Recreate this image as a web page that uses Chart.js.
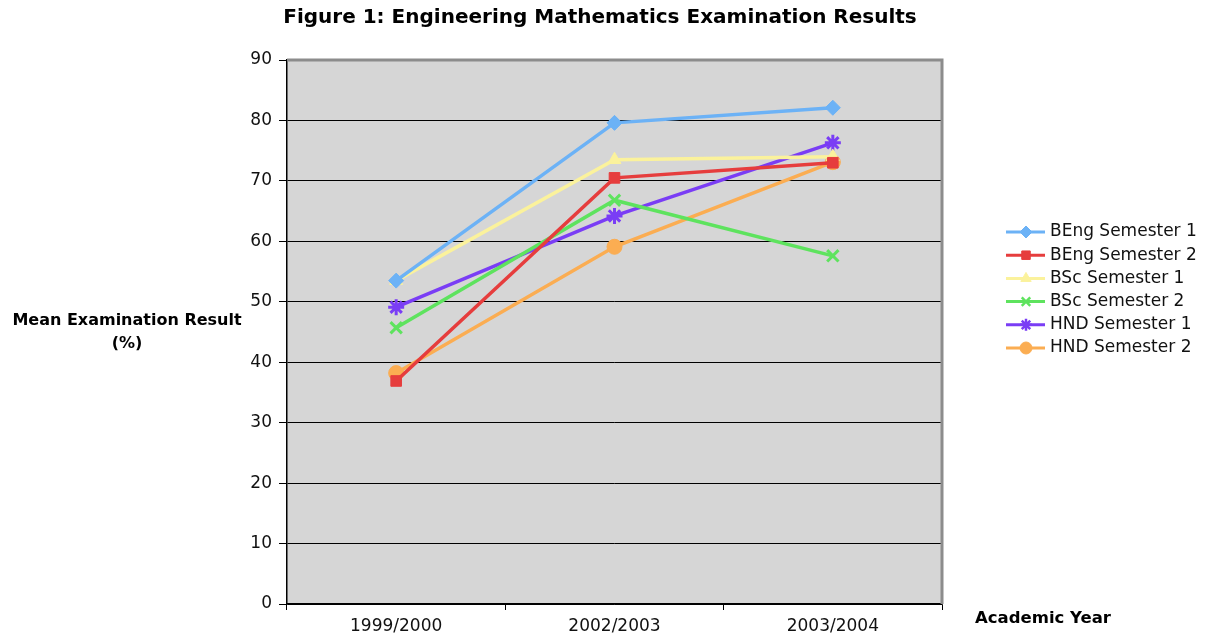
<!DOCTYPE html>
<html>
<head>
<meta charset="utf-8">
<script src="https://cdn.jsdelivr.net/npm/chart.js@4.4.1/dist/chart.umd.min.js"></script>
<style>
  html, body { margin: 0; padding: 0; background: #fff; }
  #wrap { width: 1205px; height: 640px; }
</style>
</head>
<body>
<div id="wrap"><canvas id="chart"></canvas></div>
<script>
const years = ['1999/2000', '2002/2003', '2003/2004'];
const yTicks = [0, 10, 20, 30, 40, 50, 60, 70, 80, 90];

const bengSem1 = [53.5, 79.6, 82.1];
const bengSem2 = [36.9, 70.5, 73.0];
const bscSem1 = [53.5, 73.5, 74.0];
const bscSem2 = [45.7, 66.8, 57.6];
const hndSem1 = [49.1, 64.2, 76.3];
const hndSem2 = [38.2, 59.1, 73.1];

const seriesNames = ['BEng Semester 1', 'BEng Semester 2', 'BSc Semester 1',
  'BSc Semester 2', 'HND Semester 1', 'HND Semester 2'];

const FONT = '"DejaVu Sans", Verdana, sans-serif';

function makeSet(label, data, color, style) {
  const thin = style === 'crossRot' || style === 'star';
  return {
    label,
    data,
    borderColor: color,
    backgroundColor: color,
    pointBackgroundColor: color,
    pointBorderColor: color,
    borderWidth: 3.5,
    pointStyle: style,
    pointRadius: thin ? 8 : 7.5,
    pointBorderWidth: thin ? 3 : 1,
    tension: 0
  };
}

const datasets = [
  makeSet(seriesNames[0], bengSem1, '#6cb2f6', 'rectRot'),
  makeSet(seriesNames[1], bengSem2, '#e63d3d', 'rect'),
  makeSet(seriesNames[2], bscSem1, '#fbf29c', 'triangle'),
  makeSet(seriesNames[3], bscSem2, '#5ee35e', 'crossRot'),
  makeSet(seriesNames[4], hndSem1, '#7a3df5', 'star'),
  makeSet(seriesNames[5], hndSem2, '#fbad52', 'circle')
];

// plot background, frame, titles and legend
const decor = {
  id: 'decor',
  beforeDraw(chart) {
    const { ctx, chartArea: a } = chart;
    ctx.save();
    ctx.fillStyle = '#d6d6d6';
    ctx.fillRect(a.left, a.top, a.right - a.left, a.bottom - a.top);
    ctx.restore();
  },
  afterDatasetsDraw(chart) {
    const { ctx, chartArea: a } = chart;
    ctx.save();
    ctx.strokeStyle = '#8c8c8c';
    ctx.lineWidth = 3;
    ctx.beginPath();
    ctx.moveTo(a.left, a.top);
    ctx.lineTo(a.right, a.top);
    ctx.lineTo(a.right, a.bottom);
    ctx.stroke();

    ctx.fillStyle = '#000';
    ctx.textBaseline = 'middle';
    ctx.textAlign = 'center';
    ctx.font = 'bold 20px ' + FONT;
    ctx.fillText('Figure 1: Engineering Mathematics Examination Results', 600, 18);

    ctx.font = 'bold 16px ' + FONT;
    ctx.fillText('Mean Examination Result', 127, 321);
    ctx.fillText('(%)', 127, 344);
    ctx.font = 'bold 16.5px ' + FONT;
    ctx.fillText('Academic Year', 1043, 619);

    // legend
    ctx.font = '17px ' + FONT;
    ctx.textAlign = 'left';
    chart.data.datasets.forEach((ds, i) => {
      const y = 232 + i * 23.2;
      ctx.strokeStyle = ds.borderColor;
      ctx.lineWidth = 3;
      ctx.beginPath();
      ctx.moveTo(1006, y);
      ctx.lineTo(1045, y);
      ctx.stroke();
      ctx.fillStyle = ds.borderColor;
      ctx.strokeStyle = ds.borderColor;
      ctx.lineWidth = ds.pointBorderWidth > 1 ? 2.5 : 1;
      Chart.helpers.drawPoint(ctx, {
        pointStyle: ds.pointStyle,
        radius: 6,
        rotation: 0,
        borderWidth: ds.pointBorderWidth > 1 ? 2.5 : 1
      }, 1026, y);
      ctx.fillStyle = '#111';
      ctx.fillText(ds.label, 1050, y);
    });
    ctx.restore();
  }
};

new Chart(document.getElementById('chart'), {
  type: 'line',
  data: { labels: years, datasets },
  plugins: [decor],
  options: {
    responsive: true,
    maintainAspectRatio: false,
    animation: false,
    layout: { padding: { left: 0, right: 263, top: 60, bottom: 0 } },
    plugins: {
      legend: { display: false },
      title: { display: false },
      tooltip: { enabled: false }
    },
    scales: {
      x: {
        offset: true,
        afterFit(scale) { scale.height = 36; },
        border: { color: '#000', width: 1.5 },
        grid: {
          offset: true,
          drawOnChartArea: false,
          drawTicks: true,
          tickLength: 6,
          color: '#000'
        },
        ticks: {
          color: '#111',
          padding: 6,
          maxRotation: 0,
          font: { family: FONT, size: 17 }
        }
      },
      y: {
        min: 0,
        max: 90,
        afterFit(scale) { scale.width = 287; },
        afterBuildTicks(scale) { scale.ticks = yTicks.map(v => ({ value: v })); },
        border: { color: '#000', width: 1.5 },
        grid: {
          color: ctx => (ctx.tick && ctx.tick.value === 90) ? 'rgba(0,0,0,0)' : '#000',
          tickColor: '#000',
          tickLength: 8,
          lineWidth: 1
        },
        ticks: {
          color: '#111',
          padding: 7,
          font: { family: FONT, size: 17 }
        }
      }
    }
  }
});
</script>
</body>
</html>
